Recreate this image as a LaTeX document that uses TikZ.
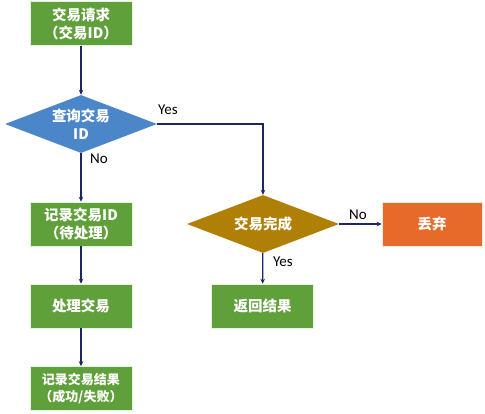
\documentclass[tikz,border=0pt]{standalone}
\usepackage{fontspec}
\setmainfont{Carlito}
\newfontfamily\cjk{Noto Sans CJK SC}
\usetikzlibrary{arrows.meta, shapes.geometric, positioning}
\usepackage{xcolor}
\definecolor{boxgreen}{RGB}{96,160,58}
\definecolor{askblue}{RGB}{74,134,200}
\definecolor{donegold}{RGB}{176,128,6}
\definecolor{droporange}{RGB}{230,106,42}
\definecolor{arrownavy}{RGB}{28,38,100}
\tikzset{stepbox/.style={rectangle, fill=boxgreen, draw=white!85!boxgreen, line width=0.5pt, minimum width=102pt, minimum height=44pt, inner sep=0pt, align=center, text=white, font=\cjk\bfseries\fontsize{14.5}{18}\selectfont}}

\begin{document}
\begin{tikzpicture}[
        x=1pt, y=-1pt,
        askdiamond/.style={diamond, aspect=2.6, minimum width=152pt, minimum height=58pt, inner sep=0pt, align=center, text=white, font=\cjk\bfseries\fontsize{14.5}{18}\selectfont},
        flow/.style={-{Stealth[length=5pt, width=4.5pt]}, arrownavy, line width=1.2pt},
        answer/.style={font=\fontsize{15}{17}\selectfont, text=black}
    ]
        % Canvas
        \useasboundingbox (0, 0) rectangle (485, 413);
        % Nodes
        \node[stepbox] (request) at (81, 23.5) {交易请求\\（交易ID）};
        \node[askdiamond, fill=askblue] (lookup) at (81, 124) {查询交易\\ID};
        \node[stepbox] (record) at (81, 224) {记录交易ID\\（待处理）};
        \node[stepbox] (process) at (81, 306) {处理交易};
        \node[stepbox, font=\cjk\bfseries\fontsize{13}{16.5}\selectfont] (result) at (81, 388.5) {记录交易结果\\（成功/失败）};
        \node[askdiamond, fill=donegold] (done) at (263, 224) {交易完成};
        \node[stepbox, fill=droporange, draw=white!85!droporange, minimum width=100pt] (drop) at (432, 224) {丢弃};
        \node[stepbox] (reply) at (262.5, 306) {返回结果};
        % Connectors
        \draw[flow] (request) -- (lookup);
        \draw[flow] (lookup.east) -| (done.north);
        \draw[flow] (lookup) -- (record);
        \draw[flow] (record) -- (process);
        \draw[flow] (process) -- (result);
        \draw[flow] (done) -- (drop);
        \draw[flow] (done) -- (reply);
        % Labels
        \node[answer] (yes1) at (168, 110) {Yes};
        \node[answer] (no1) at (99, 159) {No};
        \node[answer] (no2) at (358, 215) {No};
        \node[answer] (yes2) at (283, 262) {Yes};
    \end{tikzpicture}
\end{document}
